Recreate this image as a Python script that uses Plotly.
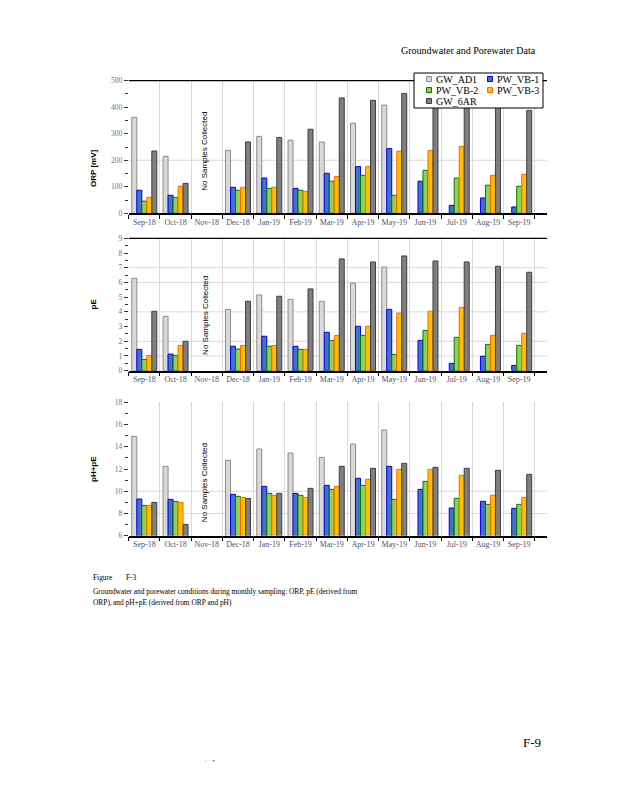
import plotly.graph_objects as go

# ---------------- data ----------------
months = ["Sep-18", "Oct-18", "Nov-18", "Dec-18", "Jan-19", "Feb-19", "Mar-19",
          "Apr-19", "May-19", "Jun-19", "Jul-19", "Aug-19", "Sep-19"]
series_names = ["GW_AD1", "PW_VB-1", "PW_VB-2", "PW_VB-3", "GW_6AR"]

orp_gw_ad1 = [362, 215, None, 237, 290, 276, 269, 340, 408, None, None, None, None]
orp_pw_vb1 = [87, 68, None, 98, 133, 94, 151, 176, 244, 121, 30, 58, 24]
orp_pw_vb2 = [46, 60, None, 87, 94, 87, 121, 143, 68, 162, 133, 106, 102]
orp_pw_vb3 = [60, 102, None, 98, 98, 83, 139, 176, 234, 237, 252, 143, 147]
orp_gw_6ar = [235, 113, None, 269, 286, 317, 435, 426, 452, 436, 432, 415, 388]

pe_gw_ad1 = [6.28, 3.70, None, 4.17, 5.15, 4.85, 4.72, 5.96, 7.05, None, None, None, None]
pe_pw_vb1 = [1.45, 1.13, None, 1.66, 2.34, 1.66, 2.61, 3.02, 4.17, 2.06, 0.50, 0.98, 0.36]
pe_pw_vb2 = [0.77, 1.04, None, 1.47, 1.66, 1.45, 2.06, 2.40, 1.11, 2.74, 2.27, 1.79, 1.72]
pe_pw_vb3 = [1.04, 1.72, None, 1.72, 1.72, 1.45, 2.40, 3.02, 3.92, 4.04, 4.31, 2.40, 2.54]
pe_gw_6ar = [4.04, 2.00, None, 4.72, 5.06, 5.56, 7.60, 7.39, 7.80, 7.46, 7.39, 7.10, 6.69]

phpe_gw_ad1 = [14.94, 12.24, None, 12.78, 13.80, 13.44, 13.05, 14.25, 15.51, None, None, None, None]
phpe_pw_vb1 = [9.30, 9.27, None, 9.72, 10.44, 9.81, 10.53, 11.16, 12.24, 10.17, 8.49, 9.09, 8.46]
phpe_pw_vb2 = [8.73, 9.09, None, 9.54, 9.81, 9.63, 10.17, 10.53, 9.27, 10.89, 9.36, 8.82, 8.82]
phpe_pw_vb3 = [8.73, 9.00, None, 9.45, 9.63, 9.45, 10.44, 11.07, 11.97, 11.97, 11.43, 9.63, 9.45]
phpe_gw_6ar = [9.00, 7.02, None, 9.36, 9.81, 10.26, 12.24, 12.06, 12.51, 12.15, 12.06, 11.88, 11.52]

panel_titles = ["ORP [mV]", "pE", "pH+pE"]
panel_ranges = [[0, 500], [0, 9], [6, 18]]
panel_dticks = [100, 1, 2]
panel_gridvals = [[200], [1, 2, 4, 6, 7], [8, 10]]
no_sample_text = "No Samples Collected"

# ---------------- style ----------------
OFF = 8  # browser body margin
W, H = 618 - OFF, 800 - OFF
fills = ["#d9d9d9", "#4472c4", "#92d050", "#ffc000", "#7f7f7f"]
edges = ["#8c8c8c", "#0000ee", "#007a00", "#ff6a00", "#3f3f3f"]
SERIF = "Liberation Serif, Times New Roman, serif"
SANS = "Liberation Sans, Arial, sans-serif"
TICKCOL = "#4a5570"


def px(x):
    return (x - OFF) / W


def py(y):
    return 1 - (y - OFF) / H


x_dom = [px(128.7), px(547)]
y_doms = [[py(213.3), py(80.7)], [py(370.7), py(238.3)], [py(535.7), py(402.3)]]
no_sample_ypos = [0.47, 0.42, 0.40]

panel_data = [
    [orp_gw_ad1, orp_pw_vb1, orp_pw_vb2, orp_pw_vb3, orp_gw_6ar],
    [pe_gw_ad1, pe_pw_vb1, pe_pw_vb2, pe_pw_vb3, pe_gw_6ar],
    [phpe_gw_ad1, phpe_pw_vb1, phpe_pw_vb2, phpe_pw_vb3, phpe_gw_6ar],
]

fig = go.Figure()
shapes = []
annotations = []

for i, series in enumerate(panel_data):
    sfx = "" if i == 0 else str(i + 1)
    xa, ya = "x" + sfx, "y" + sfx
    for name, vals, fc, ec in zip(series_names, series, fills, edges):
        fig.add_trace(go.Bar(
            x=months, y=vals, name=name, xaxis=xa, yaxis=ya, showlegend=False,
            marker=dict(color=fc, line=dict(color=ec, width=1)),
        ))
    fig.layout["xaxis" + sfx] = dict(
        domain=x_dom, anchor=ya, type="category",
        categoryorder="array", categoryarray=months,
        range=[-0.5, 12.89], tickson="boundaries",
        ticks="outside", ticklen=4, tickcolor="#000000", tickwidth=1,
        showline=True, linecolor="#000000", linewidth=1.5,
        showgrid=True, gridcolor="#d9d9d9", gridwidth=1,
        tickangle=0, automargin=False,
        tickfont=dict(family=SERIF, size=8, color=TICKCOL),
        fixedrange=True,
    )
    dt = panel_dticks[i]
    fig.layout["yaxis" + sfx] = dict(
        domain=y_doms[i], anchor=xa, range=panel_ranges[i], dtick=dt,
        ticks="outside", ticklen=4, tickcolor="#333333", tickwidth=1,
        minor=dict(ticks="outside", ticklen=3, tickcolor="#333333", dtick=dt / 2),
        showgrid=False, showline=False, zeroline=False, automargin=False,
        tickfont=dict(family=SERIF, size=7.5, color="#707080"),
        fixedrange=True,
    )
    # selected horizontal gridlines
    for gv in panel_gridvals[i]:
        shapes.append(dict(type="line", xref=xa + " domain", yref=ya, x0=0, x1=1,
                           y0=gv, y1=gv, line=dict(color="#d9d9d9", width=1),
                           layer="below"))
    # top border line (first two panels)
    if i < 2:
        shapes.append(dict(type="line", xref=xa + " domain", yref=ya + " domain",
                           x0=0, x1=1, y0=1, y1=1,
                           line=dict(color="#000000", width=1.3), layer="above"))
    # y-axis title
    annotations.append(dict(text="<b>" + panel_titles[i] + "</b>", xref="paper", yref="paper",
                            x=px(86.5), y=(y_doms[i][0] + y_doms[i][1]) / 2,
                            textangle=-90, showarrow=False,
                            font=dict(family=SANS, size=8, color="#000000")))
    # "No Samples Collected"
    annotations.append(dict(text=no_sample_text, xref=xa, yref=ya + " domain",
                            x="Nov-18", y=no_sample_ypos[i], xshift=-2,
                            textangle=-90, showarrow=False,
                            font=dict(family=SANS, size=8, color="#000000")))

# ---------------- manual legend (top panel) ----------------
shapes.append(dict(type="rect", xref="paper", yref="paper",
                   x0=px(414), x1=px(543), y0=py(108), y1=py(73),
                   fillcolor="#ffffff", line=dict(color="#000000", width=1),
                   layer="above"))
leg_cols_marker = [426.5, 487.5]
leg_cols_text = [434, 495]
leg_rows = [79, 90, 101]
for k, (name, fc, ec) in enumerate(zip(series_names, fills, edges)):
    r, c = k // 2, k % 2
    mx, yc = leg_cols_marker[c], leg_rows[r]
    shapes.append(dict(type="rect", xref="paper", yref="paper",
                       x0=px(mx), x1=px(mx + 5), y0=py(yc + 2.5), y1=py(yc - 2.5),
                       fillcolor=fc, line=dict(color=ec, width=1), layer="above"))
    annotations.append(dict(text=name, xref="paper", yref="paper",
                            x=px(leg_cols_text[c]), y=py(yc), xanchor="left",
                            yanchor="middle", showarrow=False,
                            font=dict(family=SERIF, size=10, color="#000000")))

# ---------------- page texts ----------------
page_texts = [
    ("Groundwater and Porewater Data", 538, 51, "right", 10, "#000000"),
    ("Figure", 90.7, 577, "left", 7.4, "#000000"),
    ("F-3", 124, 577, "left", 7.4, "#000000"),
    ("Groundwater and porewater conditions during monthly sampling: ORP, pE (derived from",
     90.7, 591.5, "left", 7.4, "#000000"),
    ("ORP),", 90.7, 602.5, "left", 7.4, "#000000"),
    ("and pH+pE (derived from ORP and pH)", 110.5, 602.5, "left", 7.4, "#000000"),
    ("F-9", 543, 742, "right", 13, "#000000"),
    ("ı  · ◂", 203, 760, "left", 5, "#999999"),
]
for txt, x, y, anc, size, col in page_texts:
    annotations.append(dict(text=txt, xref="paper", yref="paper", x=px(x), y=py(y),
                            xanchor=anc, yanchor="middle", showarrow=False,
                            font=dict(family=SERIF, size=size, color=col)))

fig.update_layout(
    width=W, height=H, autosize=False,
    margin=dict(l=0, r=0, t=0, b=0),
    paper_bgcolor="#ffffff", plot_bgcolor="#ffffff",
    barmode="group", bargap=0.2, bargroupgap=0,
    showlegend=False,
    shapes=shapes, annotations=annotations,
)

fig.write_html("out.html")
